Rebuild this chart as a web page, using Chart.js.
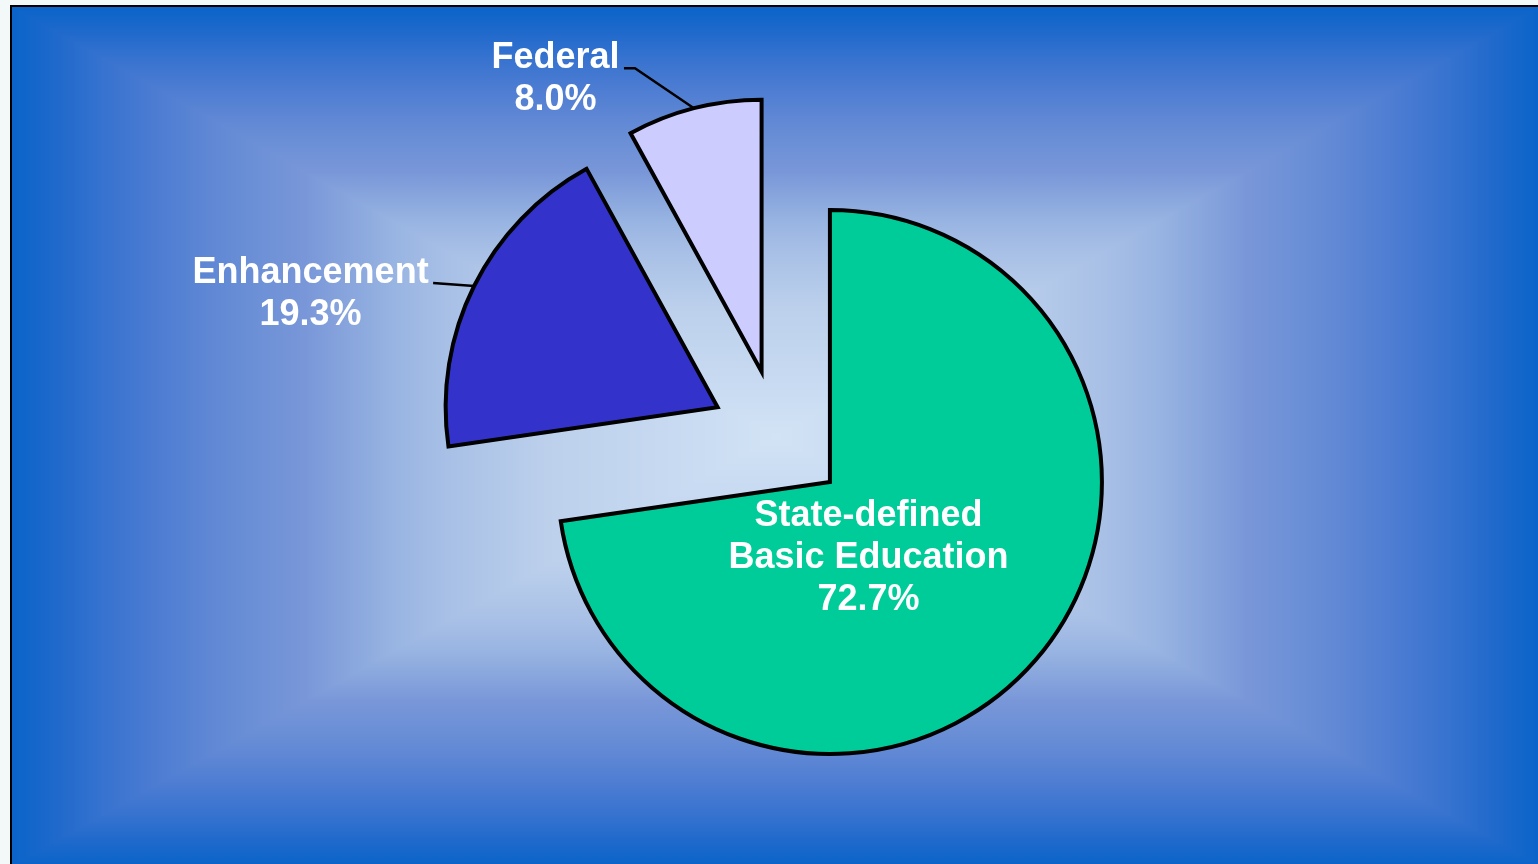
<!DOCTYPE html>
<html>
<head>
<meta charset="utf-8">
<script src="https://cdn.jsdelivr.net/npm/chart.js@4/dist/chart.umd.min.js"></script>
<style>
  html, body { margin: 0; padding: 0; background: #f3f8f8; overflow: hidden; }
  canvas { display: block; }
</style>
</head>
<body>
<canvas id="myChart" width="1538" height="864"></canvas>
<script>
// chart data
var categories = ['State-defined Basic Education', 'Enhancement', 'Federal']
var shares = [72.7, 19.3, 8.0]
var labelLines = [['State-defined', 'Basic Education'], ['Enhancement'], ['Federal']]
var sliceColors = ['#00cc99', '#3333cc', '#ccccff']

// how far every slice is pulled out of the pie
var EXPLODE = 68
var LABEL_FONT = 'bold 36px "Liberation Sans", Arial, sans-serif'
var LINE_HEIGHT = 42

// where the labels go, relative to their slice
var labelPlacement = [
  { inside: true, dx: 38.5, dy: 86 },
  { inside: false, dx: -41, dy: -3, stub: 0 },
  { inside: false, dx: -59, dy: -40, stub: 11 }
]

// rectangular "from centre" gradient of the slide background
var bgStops = [
  [0, '#d2e3f5'], [0.1, '#cadcf2'], [0.3, '#bcd0ec'], [0.43, '#a8c0e6'],
  [0.5, '#98b4e2'], [0.62, '#7896d8'], [0.69, '#6a8fd6'], [0.75, '#5d86d4'],
  [0.82, '#4a7bd2'], [0.885, '#3572cf'], [0.95, '#1c68cb'], [1, '#0a64ca']
]

function hexToRgb(h) {
  return [parseInt(h.substr(1, 2), 16), parseInt(h.substr(3, 2), 16), parseInt(h.substr(5, 2), 16)]
}

function makeBackground(w, h) {
  var c = document.createElement('canvas')
  c.width = w
  c.height = h
  var g = c.getContext('2d')
  var img = g.createImageData(w, h)
  var stops = bgStops.map(function (s) { return [s[0], hexToRgb(s[1])] })
  var x0 = 12, y0 = 7, x1 = 1540, y1 = 866
  var cx = (x0 + x1) / 2, cy = (y0 + y1) / 2
  var hw = (x1 - x0) / 2, hh = (y1 - y0) / 2
  var page = [243, 248, 248]
  for (var y = 0; y < h; y++) {
    for (var x = 0; x < w; x++) {
      var col
      if (x < 10 || y < 5) {
        col = page
      } else if (x < 12 || y < 7) {
        col = [0, 0, 0]
      } else {
        var d = Math.max(Math.abs(x + 0.5 - cx) / hw, Math.abs(y + 0.5 - cy) / hh)
        if (d > 1) d = 1
        var k = 1
        while (k < stops.length - 1 && stops[k][0] < d) k++
        var a = stops[k - 1], b = stops[k]
        var t = (d - a[0]) / (b[0] - a[0])
        col = [
          a[1][0] + (b[1][0] - a[1][0]) * t,
          a[1][1] + (b[1][1] - a[1][1]) * t,
          a[1][2] + (b[1][2] - a[1][2]) * t
        ]
      }
      var p = (y * w + x) * 4
      img.data[p] = col[0]
      img.data[p + 1] = col[1]
      img.data[p + 2] = col[2]
      img.data[p + 3] = 255
    }
  }
  g.putImageData(img, 0, 0)
  return c
}

var bgCanvas = makeBackground(1538, 864)

var backgroundPlugin = {
  id: 'slideBackground',
  beforeDraw: function (chart) {
    chart.ctx.drawImage(bgCanvas, 0, 0)
  }
}

// pull every slice out along its middle angle, keeping the radius the same
var explodePlugin = {
  id: 'explode',
  afterDatasetsUpdate: function (chart) {
    chart.getDatasetMeta(0).data.forEach(function (arc) {
      var mid = (arc.startAngle + arc.endAngle) / 2
      arc.x += Math.cos(mid) * EXPLODE
      arc.y += Math.sin(mid) * EXPLODE
    })
  }
}

var labelPlugin = {
  id: 'sliceLabels',
  afterDatasetsDraw: function (chart) {
    var ctx = chart.ctx
    var arcs = chart.getDatasetMeta(0).data
    ctx.save()
    ctx.font = LABEL_FONT
    ctx.fillStyle = '#ffffff'
    ctx.textBaseline = 'alphabetic'
    arcs.forEach(function (arc, i) {
      var lines = labelLines[i].concat([shares[i].toFixed(1) + '%'])
      var place = labelPlacement[i]
      if (place.inside) {
        var x = arc.x + place.dx
        var midY = arc.y + place.dy
        ctx.textAlign = 'center'
        lines.forEach(function (line, j) {
          ctx.fillText(line, x, midY + (j - (lines.length - 1) / 2) * LINE_HEIGHT)
        })
      } else {
        var mid = (arc.startAngle + arc.endAngle) / 2
        var ox = arc.x + Math.cos(mid) * arc.outerRadius
        var oy = arc.y + Math.sin(mid) * arc.outerRadius
        var ex = ox + place.dx
        var ey = oy + place.dy
        ctx.beginPath()
        ctx.strokeStyle = '#000000'
        ctx.lineWidth = 2.5
        ctx.moveTo(ox, oy)
        ctx.lineTo(ex, ey)
        ctx.lineTo(ex - place.stub, ey)
        ctx.stroke()
        var widest = 0
        lines.forEach(function (line) { widest = Math.max(widest, ctx.measureText(line).width) })
        var cxText = ex - place.stub - 4.5 - widest / 2
        ctx.textAlign = 'center'
        lines.forEach(function (line, j) {
          ctx.fillText(line, cxText, ey + j * LINE_HEIGHT)
        })
      }
    })
    ctx.restore()
  }
}

var ctx = document.getElementById('myChart').getContext('2d')
var chart = new Chart(ctx, {
  type: 'pie',
  data: {
    labels: categories,
    datasets: [{
      data: shares,
      backgroundColor: sliceColors,
      borderColor: '#000000',
      borderWidth: 4,
      borderJoinStyle: 'miter',
      radius: 272
    }]
  },
  options: {
    responsive: false,
    devicePixelRatio: 1,
    animation: false,
    events: [],
    layout: { padding: { left: 20, right: 1, top: 11, bottom: 0 } },
    plugins: {
      legend: { display: false },
      tooltip: { enabled: false }
    }
  },
  plugins: [backgroundPlugin, explodePlugin, labelPlugin]
})
</script>
</body>
</html>
